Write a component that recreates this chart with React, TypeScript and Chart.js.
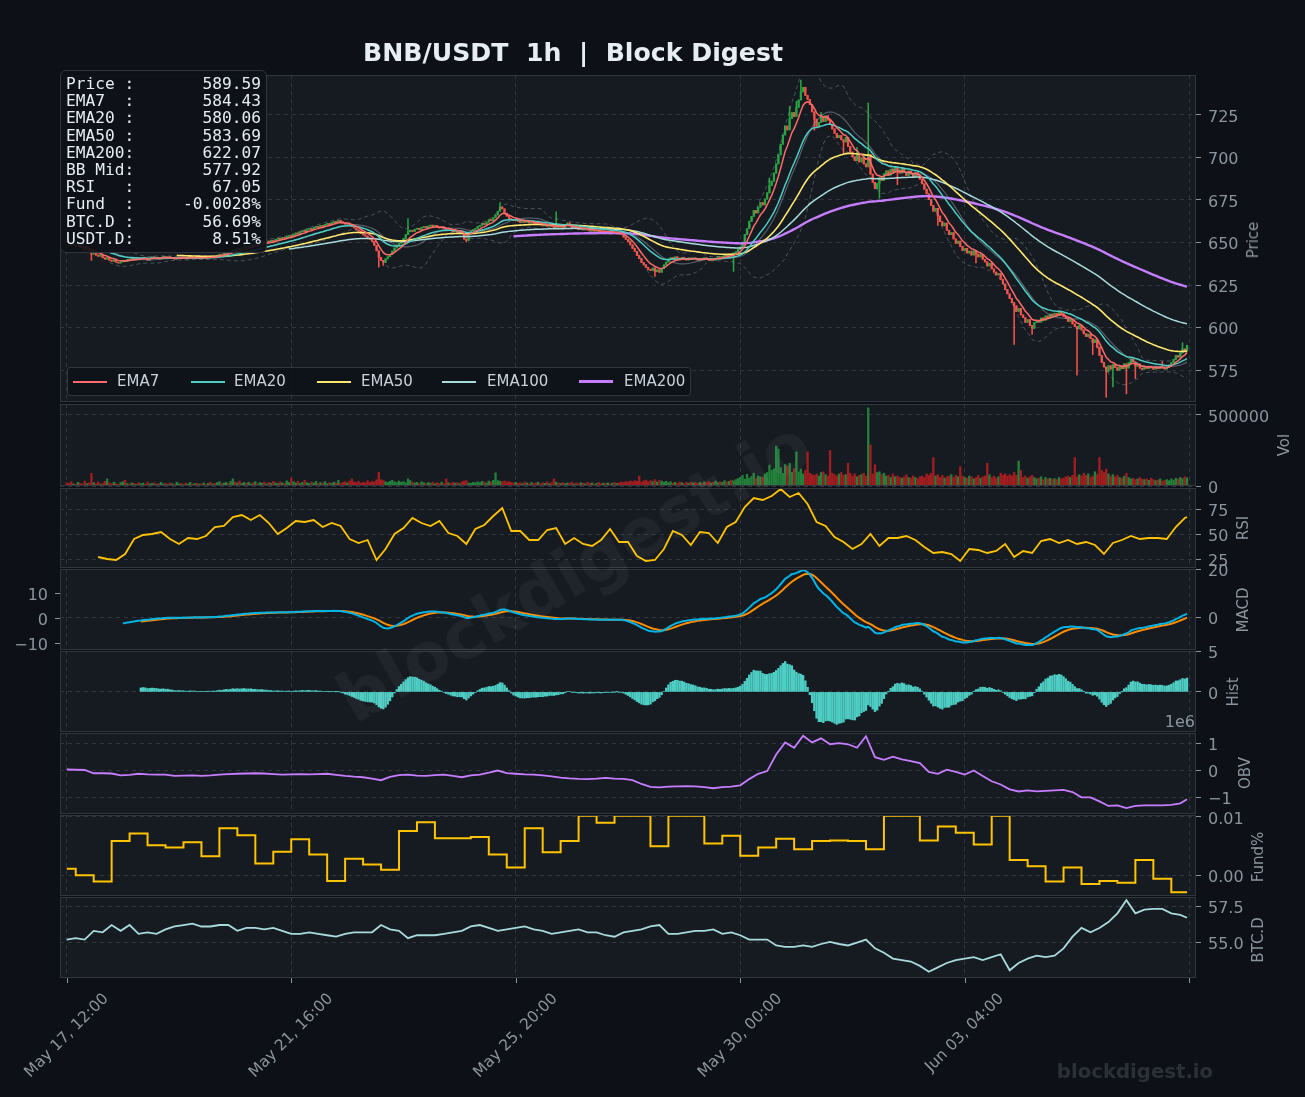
import React, { useEffect, useRef } from "react";
import { Chart, registerables } from "chart.js";

Chart.register(...registerables);

// ------------------------------------------------------------------ data
const X_TICKS = [0, 100, 200, 300, 400, 500];
const X_TICK_LABELS = ["May 17, 12:00", "May 21, 16:00", "May 25, 20:00", "May 30, 00:00", "Jun 03, 04:00"];

const FIRST_OPEN = 650.8;
// hourly closes (BNB/USDT)
const closes = [
  650.2, 649.1, 648.5, 649.3, 647.8, 648.6, 647.2, 646.9, 645.5, 646.3, 645.1, 643.2, 644.0, 642.6, 641.9, 642.8, 641.0, 640.2, 641.1, 639.6,
  638.9, 639.8, 638.4, 637.9, 638.6, 639.5, 638.7, 640.1, 639.3, 640.6, 639.8, 640.9, 640.2, 640.5, 641.3, 640.4, 639.6, 640.8, 641.5, 640.7,
  641.2, 640.3, 641.0, 641.8, 640.9, 641.6, 640.5, 641.1, 640.2, 640.8, 641.5, 640.6, 641.3, 640.4, 641.0, 641.7, 640.8, 641.4, 640.5, 641.2,
  640.6, 641.5, 640.9, 641.8, 641.1, 642.0, 641.4, 642.5, 643.1, 642.4, 643.6, 644.2, 643.5, 644.8, 645.6, 644.9, 646.2, 645.7, 646.8, 647.5,
  646.9, 647.8, 648.6, 647.9, 649.2, 648.5, 649.7, 650.3, 649.6, 650.8, 650.1, 651.3, 650.6, 651.9, 652.5, 651.8, 653.0, 652.4, 653.6, 654.1,
  653.5, 654.8, 655.6, 655.0, 656.3, 657.1, 656.4, 657.8, 658.3, 657.6, 658.9, 659.5, 658.8, 660.1, 659.4, 660.6, 661.2, 660.5, 661.8, 662.4,
  661.7, 663.0, 662.2, 661.5, 660.8, 661.4, 660.1, 659.3, 658.6, 657.4, 656.8, 655.2, 654.5, 653.8, 652.6, 651.9, 650.7, 648.3, 645.1, 641.2,
  639.5, 638.2, 640.4, 641.6, 643.1, 645.0, 646.8, 648.2, 649.5, 650.1, 652.4, 654.6, 656.3, 657.2, 656.5, 657.8, 658.4, 657.6, 658.9, 659.3,
  658.7, 659.6, 660.2, 659.4, 660.0, 659.1, 658.5, 659.2, 658.3, 657.6, 658.1, 657.0, 656.4, 656.9, 655.8, 656.3, 655.5, 652.0, 651.2, 655.9,
  656.8, 657.5, 658.2, 659.4, 660.1, 661.3, 660.6, 662.0, 663.4, 662.8, 664.5, 666.2, 668.4, 670.9, 669.8, 667.2, 665.5, 664.1, 663.6, 662.8,
  663.4, 662.5, 661.8, 662.6, 661.9, 662.4, 661.5, 662.1, 661.3, 660.7, 661.2, 660.4, 659.8, 660.5, 659.6, 660.2, 659.3, 658.7, 659.5, 658.9,
  659.6, 658.8, 660.3, 661.5, 659.7, 658.6, 659.1, 658.2, 657.6, 658.4, 657.5, 658.1, 657.3, 656.8, 657.5, 656.6, 657.2, 656.4, 655.8, 656.5,
  655.9, 656.6, 655.7, 656.2, 655.4, 655.9, 655.1, 654.6, 653.2, 651.8, 650.4, 648.6, 646.5, 644.8, 642.3, 640.5, 638.2, 636.9, 635.4, 634.2,
  633.5, 635.0, 632.8, 633.9, 632.5, 634.6, 636.8, 638.5, 640.2, 641.1, 640.4, 641.6, 640.8, 640.1, 641.3, 640.5, 639.7, 640.9, 640.2, 641.0,
  640.3, 639.5, 640.6, 639.8, 641.0, 640.2, 639.4, 640.5, 639.6, 640.8, 641.5, 640.7, 641.9, 642.6, 641.8, 643.1, 642.5, 643.8, 644.5, 645.9,
  647.3, 650.2, 654.8, 658.1, 662.5, 665.3, 668.9, 667.4, 670.8, 673.5, 672.1, 675.6, 679.2, 683.5, 686.1, 690.8, 696.2, 701.5, 707.8, 713.2,
  718.5, 716.2, 722.8, 726.4, 724.1, 729.5, 733.8, 738.6, 741.2, 736.5, 734.2, 731.0, 726.8, 722.5, 718.4, 720.6, 723.8, 721.2, 724.5, 722.0,
  719.5, 716.8, 714.2, 711.6, 712.9, 710.4, 709.1, 711.8, 706.5, 703.2, 700.4, 698.1, 701.6, 697.4, 699.8, 696.2, 694.5, 701.8, 690.2, 685.4,
  681.6, 684.8, 688.2, 686.5, 690.4, 692.1, 689.6, 693.0, 691.4, 694.2, 692.6, 690.8, 693.5, 691.2, 689.4, 692.0, 690.3, 688.6, 691.1, 689.5,
  687.2, 684.5, 681.3, 678.6, 675.2, 671.8, 668.4, 670.1, 665.6, 662.3, 659.8, 661.4, 657.2, 654.6, 655.8, 652.1, 649.5, 650.8, 647.6, 645.2,
  646.5, 643.8, 644.9, 642.6, 645.1, 643.2, 641.5, 642.8, 640.1, 638.6, 636.2, 637.8, 634.5, 632.6, 630.9, 631.8, 628.4, 625.6, 622.3, 619.8,
  617.1, 614.6, 612.8, 609.5, 611.2, 607.4, 605.8, 603.1, 604.6, 601.2, 599.5, 602.8, 604.1, 603.2, 605.6, 604.3, 606.8, 605.5, 607.9, 606.6,
  608.4, 607.2, 609.6, 608.1, 606.5, 605.2, 603.6, 604.8, 602.1, 600.5, 599.2, 601.4, 598.6, 596.3, 594.8, 596.1, 593.5, 591.2, 592.8, 588.4,
  583.6, 579.5, 576.8, 574.2, 577.5, 575.6, 578.2, 576.4, 574.9, 577.3, 575.8, 578.6, 576.2, 579.4, 581.5, 579.8, 577.2, 578.5, 576.1, 575.4,
  576.8, 575.9, 577.2, 576.3, 575.5, 576.9, 575.8, 577.1, 576.2, 575.6, 576.7, 577.9, 579.4, 581.2, 583.5, 582.6, 585.1, 587.4, 586.2, 589.59,
];

// notable wicks: [index, high, low]
const wicks: [number, number | null, number | null][] = [
  [11, null, 639.5], [139, null, 635.5], [141, null, 636.5], [152, 664, null], [178, null, 650.3],
  [193, 673.5, null], [218, 668, null], [262, null, 630], [297, null, 633], [313, 688, null],
  [322, 730, null], [325, 733, null], [327, 745.5, null], [333, null, 716], [336, 726.5, null],
  [346, null, 702], [352, 706, null], [357, 732, null], [362, null, 676], [370, null, 684],
  [388, null, 660], [405, null, 638], [422, null, 590], [430, null, 596], [450, null, 572],
  [457, null, 584], [463, null, 559], [466, null, 565], [472, null, 561], [476, null, 570],
  [488, 580, null], [497, 591, null],
];

// hourly volume, thousands
const volumesK = [
  22, 18, 31, 15, 12, 26, 19, 14, 35, 17, 21, 89, 24, 16, 28, 13, 19, 33, 50, 21,
  15, 27, 18, 12, 24, 30, 40, 17, 14, 22, 19, 11, 25, 16, 20, 13, 28, 15, 18, 23,
  12, 17, 26, 14, 19, 11, 22, 16, 13, 27, 15, 18, 10, 21, 14, 25, 12, 17, 20, 13,
  16, 22, 11, 19, 27, 14, 18, 24, 30, 17, 21, 26, 19, 33, 50, 28, 22, 35, 18, 25,
  19, 27, 15, 22, 31, 17, 24, 20, 28, 16, 26, 19, 33, 21, 17, 29, 23, 18, 36, 25,
  57, 30, 22, 34, 19, 26, 41, 23, 18, 29, 21, 33, 17, 25, 20, 31, 16, 24, 19, 27,
  22, 40, 18, 26, 30, 21, 35, 50, 28, 24, 33, 19, 27, 22, 38, 25, 31, 29, 44, 96,
  45, 38, 30, 26, 33, 40, 29, 24, 35, 27, 31, 22, 50, 38, 28, 21, 26, 19, 30, 24,
  18, 25, 20, 28, 16, 23, 19, 27, 15, 50, 22, 18, 26, 20, 24, 17, 29, 35, 38, 21,
  19, 26, 22, 30, 24, 33, 27, 21, 35, 29, 40, 92, 38, 34, 30, 36, 28, 31, 25, 22,
  26, 19, 24, 17, 29, 21, 16, 25, 18, 22, 27, 15, 23, 19, 30, 17, 24, 50, 28, 21,
  18, 25, 16, 22, 19, 27, 14, 21, 17, 24, 20, 15, 26, 18, 22, 13, 19, 25, 16, 21,
  17, 23, 14, 20, 26, 18, 22, 29, 25, 31, 27, 35, 30, 38, 33, 70, 28, 36, 42, 30,
  38, 32, 45, 29, 41, 35, 27, 33, 24, 30, 21, 26, 19, 28, 23, 17, 25, 20, 27, 22,
  24, 18, 26, 21, 29, 25, 32, 20, 27, 35, 23, 30, 26, 38, 28, 33, 41, 36, 45, 52,
  60, 75, 48, 82, 55, 68, 90, 52, 70, 64, 62, 85, 95, 148, 110, 120, 280, 260, 130, 88,
  150, 140, 160, 95, 120, 240, 100, 120, 85, 110, 240, 90, 80, 75, 85, 70, 95, 100, 80, 70,
  250, 90, 80, 70, 85, 95, 75, 80, 160, 90, 70, 85, 65, 75, 80, 90, 70, 550, 290, 85,
  150, 95, 100, 80, 90, 70, 75, 60, 85, 65, 70, 60, 55, 65, 80, 60, 55, 70, 60, 50,
  65, 70, 60, 85, 75, 90, 200, 70, 80, 60, 75, 55, 65, 70, 80, 60, 75, 65, 135, 70,
  60, 55, 70, 65, 50, 60, 75, 55, 65, 70, 160, 80, 60, 70, 55, 65, 90, 75, 85, 70,
  80, 70, 95, 75, 175, 110, 60, 70, 55, 65, 75, 60, 50, 55, 65, 45, 60, 50, 55, 48,
  52, 45, 60, 50, 55, 65, 70, 60, 75, 200, 65, 80, 70, 90, 75, 85, 60, 70, 100, 80,
  200, 110, 95, 120, 85, 70, 80, 65, 75, 60, 55, 70, 90, 60, 50, 55, 45, 50, 60, 48,
  45, 50, 40, 55, 45, 38, 42, 50, 35, 40, 45, 38, 50, 42, 55, 48, 60, 52, 65, 58,
];

// RSI(14), every 4 hours from hour 14, last value at the final candle
const rsi4h = [
  27, 25, 24, 30, 45, 49, 50, 52, 45, 40,
  46, 45, 48, 57, 58, 67, 69, 64, 69, 61,
  50, 56, 63, 62, 64, 57, 61, 58, 45, 41,
  44, 24, 35, 50, 56, 66, 61, 58, 63, 51,
  48, 40, 55, 59, 68, 76, 53, 53, 44, 44,
  54, 56, 40, 46, 40, 38, 44, 55, 42, 42,
  28, 23, 24, 35, 53, 49, 39, 52, 51, 41,
  57, 62, 77, 86, 84, 88, 95, 87, 91, 80,
  62, 58, 47, 42, 35, 40, 50, 38, 46, 46,
  48, 44, 37, 31, 32, 30, 23, 35, 34, 31,
  33, 40, 27, 33, 31, 43, 45, 41, 44, 40,
  42, 39, 30, 41, 44, 48, 45, 46, 46, 45,
  57, 66, 67.05,
];

// funding rate (%), one value per 8h window (first window = first 4 hours)
const fundingPct = [
  0.0012, 0.0001, -0.001, 0.0059, 0.0072, 0.0052, 0.0048, 0.0057, 0.0033, 0.0081,
  0.0069, 0.0021, 0.0041, 0.0062, 0.0036, -0.0009, 0.0029, 0.0019, 0.001, 0.0076,
  0.0091, 0.0064, 0.0064, 0.0066, 0.0036, 0.0014, 0.0081, 0.004, 0.0059, 0.0102,
  0.009, 0.0102, 0.0102, 0.005, 0.0102, 0.0102, 0.0055, 0.0068, 0.0034, 0.0048,
  0.0063, 0.0045, 0.0059, 0.006, 0.0059, 0.0045, 0.0102, 0.0102, 0.006, 0.0084,
  0.0073, 0.0053, 0.0102, 0.0027, 0.0016, -0.001, 0.0014, -0.0014, -0.0009, -0.0012,
  0.0027, -0.0005, -0.0028,
];

// BTC dominance (%), every 4 hours
const btcDom4h = [
  55.2, 55.3, 55.2, 55.8, 55.7, 56.2, 55.8, 56.2, 55.6, 55.7,
  55.6, 55.9, 56.1, 56.2, 56.3, 56.1, 56.1, 56.2, 56.2, 55.8,
  56.0, 56.0, 55.9, 56.0, 55.8, 55.6, 55.6, 55.7, 55.6, 55.5,
  55.4, 55.6, 55.7, 55.7, 55.7, 56.2, 55.9, 55.8, 55.3, 55.5,
  55.5, 55.5, 55.6, 55.7, 55.8, 56.1, 56.2, 56.0, 55.8, 55.9,
  56.0, 56.1, 55.9, 55.8, 55.6, 55.7, 55.8, 55.9, 55.7, 55.7,
  55.5, 55.4, 55.7, 55.8, 55.9, 56.1, 56.2, 55.6, 55.6, 55.7,
  55.8, 55.8, 55.9, 55.6, 55.7, 55.5, 55.2, 55.2, 55.2, 54.8,
  54.7, 54.7, 54.8, 54.7, 54.9, 55.05, 54.9, 54.8, 55.0, 55.2,
  54.6, 54.3, 53.9, 53.8, 53.7, 53.4, 53.0, 53.3, 53.6, 53.8,
  53.9, 54.0, 53.8, 54.0, 54.2, 53.1, 53.6, 53.9, 54.1, 54.0,
  54.1, 54.6, 55.4, 56.0, 55.7, 56.0, 56.4, 57.0, 57.9, 57.0,
  57.25, 57.3, 57.3, 57.0, 56.9, 56.7,
];

// On-balance volume (millions), every 4 hours
const obvM4h = [
  0.04, 0.03, 0.02, -0.1, -0.1, -0.11, -0.18, -0.16, -0.12, -0.14,
  -0.15, -0.15, -0.2, -0.19, -0.18, -0.2, -0.18, -0.15, -0.13, -0.12,
  -0.11, -0.1, -0.11, -0.13, -0.15, -0.14, -0.13, -0.14, -0.13, -0.12,
  -0.16, -0.2, -0.23, -0.25, -0.3, -0.36, -0.24, -0.17, -0.15, -0.19,
  -0.2, -0.17, -0.15, -0.2, -0.25, -0.18, -0.15, -0.08, 0.0, -0.1,
  -0.12, -0.14, -0.15, -0.18, -0.22, -0.26, -0.29, -0.31, -0.32, -0.3,
  -0.27, -0.3, -0.31, -0.36, -0.5, -0.61, -0.63, -0.6, -0.59, -0.58,
  -0.59, -0.62, -0.66, -0.62, -0.6, -0.55, -0.32, -0.12, -0.02, 0.6,
  1.05, 0.85, 1.3, 1.05, 1.2, 0.98, 1.02, 0.98, 0.85, 1.28,
  0.5, 0.4, 0.52, 0.42, 0.35, 0.28, -0.05, -0.12, 0.03, -0.05,
  -0.15, 0.0, -0.2, -0.4, -0.52, -0.7, -0.78, -0.74, -0.78, -0.76,
  -0.74, -0.72, -0.8, -1.0, -1.0, -1.15, -1.32, -1.3, -1.4, -1.32,
  -1.3, -1.3, -1.3, -1.28, -1.22, -1.07,
];

const infoRows: [string, string][] = [
  ["Price :", "589.59"], ["EMA7  :", "584.43"], ["EMA20 :", "580.06"], ["EMA50 :", "583.69"],
  ["EMA200:", "622.07"], ["BB Mid:", "577.92"], ["RSI   :", "67.05"], ["Fund  :", "-0.0028%"],
  ["BTC.D :", "56.69%"], ["USDT.D:", "8.51%"],
];

const legendNames = ["EMA7", "EMA20", "EMA50", "EMA100", "EMA200"];

// ------------------------------------------------------------------ style
const FONT = "'DejaVu Sans', 'Liberation Sans', sans-serif";
const MONO = "'DejaVu Sans Mono', 'Liberation Mono', monospace";
const BG = "#0d1117";
const PANEL = "#161b22";
const GRID = "#30363d";
const TICK = "#8b949e";
const TEXT = "#e6edf3";
const C_UP = "#26a641";
const C_DN = "#f85149";
const V_UP = "#23803a";
const V_DN = "#a11d1f";
const EMA_COLORS = ["#ff6b6b", "#4ecdc4", "#ffe66d", "#a8dadc", "#c77dff"];
const LEGEND_POS = [[73, 117], [191, 234], [317, 361], [442, 487], [579, 624]];

const W = 1305, H = 1097, PL = 60, PR = 1196, PAD = 22;
const X_MIN = -3, X_MAX = 503;
const LABEL_SHIFT = 2.5;

// ------------------------------------------------------------------ derived series
const N = closes.length;
const opens = closes.map((c, i) => (i === 0 ? FIRST_OPEN : closes[i - 1]));
const wickMap = new Map(wicks.map((w) => [w[0], w]));
const highs = closes.map((c, i) => {
  const b = Math.max(c, opens[i]);
  const w = wickMap.get(i);
  return w && w[1] != null ? Math.max(w[1], b) : b;
});
const lows = closes.map((c, i) => {
  const b = Math.min(c, opens[i]);
  const w = wickMap.get(i);
  return w && w[2] != null ? Math.min(w[2], b) : b;
});
const up = closes.map((c, i) => c >= opens[i]);

function ema(src: number[], n: number): number[] {
  const k = 2 / (n + 1);
  const out: number[] = [];
  let prev = src[0];
  src.forEach((v, i) => {
    prev = i === 0 ? v : v * k + prev * (1 - k);
    out.push(prev);
  });
  return out;
}
const ema7 = ema(closes, 7);
const ema20 = ema(closes, 20);
const ema50 = ema(closes, 50);
const ema100 = ema(closes, 100);
const ema200 = ema(closes, 200);

const bbMid: (number | null)[] = [];
const bbUp: (number | null)[] = [];
const bbLo: (number | null)[] = [];
for (let i = 0; i < N; i++) {
  if (i < 19) { bbMid.push(null); bbUp.push(null); bbLo.push(null); continue; }
  const win = closes.slice(i - 19, i + 1);
  const m = win.reduce((a, b) => a + b, 0) / 20;
  const sd = Math.sqrt(win.reduce((a, b) => a + (b - m) * (b - m), 0) / 19);
  bbMid.push(m); bbUp.push(m + 2 * sd); bbLo.push(m - 2 * sd);
}

const e12 = ema(closes, 12);
const e26 = ema(closes, 26);
const macd = e12.map((v, i) => v - e26[i]);
const signal = ema(macd, 9);
const hist = macd.map((v, i) => v - signal[i]);

type P = { x: number; y: number };
const pts = (arr: (number | null)[], from = 0): P[] =>
  arr.map((y, i) => ({ x: i, y: y as number })).filter((p) => p.x >= from && p.y != null);
const step4 = (arr: number[]): P[] => arr.map((y, k) => ({ x: Math.min(4 * k, N - 1), y }));
const rsiPts: P[] = rsi4h.map((y, k) => ({ x: Math.min(14 + 4 * k, N - 1), y }));
const fundPts: P[] = fundingPct.map((y, j) => ({ x: j === 0 ? 0 : 8 * j - 4, y }));
fundPts.push({ x: N - 1, y: fundingPct[fundingPct.length - 1] });

// ------------------------------------------------------------------ panels
type Spec = {
  key: string; top: number; bottom: number; yMin: number; yMax: number; yTicks: number[];
  fmt: (v: number) => string; datasets: any[]; last?: boolean;
  left?: { min: number; max: number; ticks: number[]; fmt: (v: number) => string };
};

const minus = (v: number, d = 0) => (v < 0 ? "\u2212" + Math.abs(v).toFixed(d) : v.toFixed(d));
const line = (data: P[], color: string, width: number, order = 1, extra: any = {}) => ({
  type: "line", data, borderColor: color, borderWidth: width, pointRadius: 0, fill: false,
  tension: 0, order, ...extra,
});

const specs: Spec[] = [
  {
    key: "price", top: 75, bottom: 402, yMin: 556.2, yMax: 748.5,
    yTicks: [575, 600, 625, 650, 675, 700, 725], fmt: (v) => v.toFixed(0),
    datasets: [
      line(pts(ema7, 6), EMA_COLORS[0], 1.5, 1),
      line(pts(ema20, 19), EMA_COLORS[1], 1.5, 2),
      line(pts(ema50, 49), EMA_COLORS[2], 1.6, 3),
      line(pts(ema100, 99), EMA_COLORS[3], 1.5, 4),
      line(pts(ema200, 199), EMA_COLORS[4], 2.4, 5),
      line(pts(bbMid, 19), "rgba(139,148,158,0.55)", 1.2, 6),
      line(pts(bbUp, 19), "rgba(139,148,158,0.45)", 1, 7, { borderDash: [4, 3] }),
      line(pts(bbLo, 19), "rgba(139,148,158,0.45)", 1, 7, { borderDash: [4, 3] }),
      {
        type: "bar", data: closes.map((c, i) => ({ x: i, y: [opens[i], c] })),
        backgroundColor: up.map((u) => (u ? C_UP : C_DN)), barThickness: 1.6, grouped: false,
        minBarLength: 1, borderWidth: 0, order: 8,
      },
      {
        type: "bar", data: closes.map((_, i) => ({ x: i, y: [lows[i], highs[i]] })),
        backgroundColor: up.map((u) => (u ? C_UP : C_DN)), barThickness: 0.9, grouped: false,
        borderWidth: 0, order: 9,
      },
    ],
  },
  {
    key: "vol", top: 404, bottom: 486, yMin: 0, yMax: 577000, yTicks: [0, 500000],
    fmt: (v) => v.toFixed(0),
    datasets: [{
      type: "bar", data: volumesK.map((v, i) => ({ x: i, y: v * 1000 })),
      backgroundColor: up.map((u) => (u ? V_UP : V_DN)), barThickness: 1.7, grouped: false, borderWidth: 0,
    }],
  },
  {
    key: "rsi", top: 488, bottom: 568, yMin: 16, yMax: 96, yTicks: [25, 50, 75],
    fmt: (v) => v.toFixed(0), datasets: [line(rsiPts, "#ffc300", 1.8)],
  },
  {
    key: "macd", top: 569, bottom: 650, yMin: -13.8, yMax: 20.3, yTicks: [0, 20],
    fmt: (v) => v.toFixed(0),
    left: { min: -12.6, max: 19.6, ticks: [-10, 0, 10], fmt: (v) => minus(v) },
    datasets: [
      line(pts(macd, 25), "#00b4e6", 2, 1),
      line(pts(signal, 33), "#ff8c00", 2, 2),
    ],
  },
  {
    key: "hist", top: 651, bottom: 732, yMin: -4.9, yMax: 5, yTicks: [0, 5],
    fmt: (v) => v.toFixed(0),
    datasets: [{
      type: "bar", data: pts(hist, 33), backgroundColor: "#4ecdc4", barThickness: 1.7, grouped: false, borderWidth: 0,
    }],
  },
  {
    key: "obv", top: 733, bottom: 814, yMin: -1.62, yMax: 1.4, yTicks: [-1, 0, 1],
    fmt: (v) => minus(v), datasets: [line(step4(obvM4h), "#c77dff", 1.8)],
  },
  {
    key: "fund", top: 815, bottom: 896, yMin: -0.00345, yMax: 0.01034, yTicks: [0, 0.01],
    fmt: (v) => v.toFixed(2), datasets: [line(fundPts, "#ffc300", 2, 1, { stepped: "before" })],
  },
  {
    key: "btcd", top: 897, bottom: 978, yMin: 52.57, yMax: 58.12, yTicks: [55, 57.5],
    fmt: (v) => v.toFixed(1), datasets: [line(step4(btcDom4h), "#a8dadc", 1.8)], last: true,
  },
];

const panelPlugin = {
  id: "panelBg",
  beforeDraw(chart: any) {
    const { ctx, chartArea: a } = chart;
    ctx.save();
    ctx.fillStyle = PANEL;
    ctx.fillRect(a.left, a.top, a.right - a.left, a.bottom - a.top);
    ctx.restore();
  },
  afterDraw(chart: any) {
    const { ctx, chartArea: a } = chart;
    ctx.save();
    ctx.strokeStyle = GRID;
    ctx.lineWidth = 1;
    ctx.strokeRect(a.left + 0.5, a.top + 0.5, a.right - a.left - 1, a.bottom - a.top - 1);
    ctx.restore();
  },
};

const xLabelPlugin = {
  id: "xLabels",
  afterDraw(chart: any) {
    const { ctx, chartArea: a } = chart;
    const xs = chart.scales.x;
    ctx.save();
    ctx.strokeStyle = TICK;
    ctx.lineWidth = 1;
    X_TICKS.forEach((v) => {
      const px = Math.round(xs.getPixelForValue(v)) + 0.5;
      ctx.beginPath();
      ctx.moveTo(px, a.bottom);
      ctx.lineTo(px, a.bottom + 5);
      ctx.stroke();
    });
    const fs = 15.5;
    ctx.font = `${fs}px ${FONT}`;
    ctx.fillStyle = TICK;
    ctx.textAlign = "center";
    ctx.textBaseline = "middle";
    X_TICK_LABELS.forEach((lab, k) => {
      const px = xs.getPixelForValue(X_TICKS[k]);
      const w = ctx.measureText(lab).width;
      const half = ((w + fs * 1.17) * Math.SQRT1_2) / 2;
      ctx.save();
      ctx.translate(px, a.bottom + 12 + half);
      ctx.rotate(-Math.PI / 4);
      ctx.fillText(lab, 0, 0);
      ctx.restore();
    });
    ctx.restore();
  },
};

function canvasGeom(spec: Spec) {
  const canvasTop = spec.top - PAD;
  const ch = spec.last ? H - canvasTop : spec.bottom - spec.top + 2 * PAD;
  return { canvasTop, ch };
}

function buildConfig(spec: Spec): any {
  const { ch } = canvasGeom(spec);
  const areaH = spec.bottom - spec.top;
  const xAxisH = spec.last ? ch - PAD - areaH : 0;
  const tickFont = { family: FONT, size: 16 };
  const scales: any = {
    x: {
      type: "linear", min: X_MIN, max: X_MAX, offset: false, position: "bottom",
      afterBuildTicks: (s: any) => { s.ticks = X_TICKS.map((v) => ({ value: v })); },
      afterFit: (s: any) => { s.height = xAxisH; },
      ticks: { display: false },
      grid: { color: GRID, lineWidth: 1, drawTicks: false, offset: false },
      border: { display: false, dash: [4, 4] },
    },
    y: {
      type: "linear", position: "right", min: spec.yMin, max: spec.yMax,
      afterBuildTicks: (s: any) => { s.ticks = spec.yTicks.map((v) => ({ value: v })); },
      afterFit: (s: any) => { s.width = W - PR; },
      ticks: {
        color: TICK, font: tickFont, padding: 7, autoSkip: false, labelOffset: LABEL_SHIFT,
        callback: (v: any) => spec.fmt(Number(v)),
      },
      grid: { color: GRID, lineWidth: 1, tickLength: 5, tickColor: TICK, tickWidth: 1, offset: false },
      border: { display: false, dash: [4, 4] },
    },
  };
  if (spec.left) {
    const L = spec.left;
    scales.yl = {
      type: "linear", position: "left", min: L.min, max: L.max,
      afterBuildTicks: (s: any) => { s.ticks = L.ticks.map((v) => ({ value: v })); },
      afterFit: (s: any) => { s.width = PL; },
      ticks: {
        color: TICK, font: tickFont, padding: 7, autoSkip: false, labelOffset: LABEL_SHIFT,
        callback: (v: any) => L.fmt(Number(v)),
      },
      grid: { drawOnChartArea: false, tickLength: 5, tickColor: TICK, tickWidth: 1, color: GRID },
      border: { display: false },
    };
  }
  return {
    type: "line",
    data: { datasets: spec.datasets.map((d) => ({ ...d, xAxisID: "x", yAxisID: "y" })) },
    options: {
      animation: false,
      responsive: false,
      maintainAspectRatio: false,
      devicePixelRatio: 1,
      events: [],
      layout: { padding: { left: spec.left ? 0 : PL, right: 0, top: PAD, bottom: spec.last ? 0 : PAD } },
      plugins: { legend: { display: false }, tooltip: { enabled: false }, title: { display: false } },
      elements: { point: { radius: 0 }, line: { tension: 0 } },
      scales,
    },
    plugins: spec.last ? [panelPlugin, xLabelPlugin] : [panelPlugin],
  };
}

function PanelChart({ spec }: { spec: Spec }) {
  const ref = useRef<HTMLCanvasElement>(null);
  useEffect(() => {
    const chart = new Chart(ref.current as HTMLCanvasElement, buildConfig(spec));
    return () => chart.destroy();
  }, [spec]);
  const { canvasTop, ch } = canvasGeom(spec);
  return (
    <canvas
      ref={ref}
      width={W}
      height={ch}
      style={{ position: "absolute", left: 0, top: canvasTop, width: W, height: ch }}
    />
  );
}

const sideLabels: [string, number, number][] = [
  ["Price", 1253, 240], ["Vol", 1284, 445], ["RSI", 1243, 528], ["MACD", 1243, 610],
  ["Hist", 1233, 692], ["OBV", 1245, 773], ["Fund%", 1258, 857], ["BTC.D", 1258, 940],
];

export default function App() {
  useEffect(() => {
    document.body.style.margin = "0";
    document.body.style.background = BG;
  }, []);
  const abs = (s: any) => ({ position: "absolute", ...s });
  return (
    <div style={{ position: "absolute", left: 0, top: 0, width: W, height: H, background: BG, overflow: "hidden", fontFamily: FONT }}>
      {specs.map((s) => (
        <PanelChart key={s.key} spec={s} />
      ))}

      {/* title */}
      <div style={abs({ left: 573, top: 52, transform: "translate(-50%,-50%)", color: TEXT, fontWeight: "bold", fontSize: 25.2, whiteSpace: "pre" })}>
        {"BNB/USDT  1h  |  Block Digest"}
      </div>

      {/* info box */}
      <div style={abs({ left: 60, top: 70, width: 207, height: 183, boxSizing: "border-box", background: "rgba(13,17,23,0.9)", border: `1.5px solid ${GRID}`, borderRadius: 6, padding: "4px 0 0 5px" })}>
        {infoRows.map(([k, v]) => (
          <div key={k} style={{ fontFamily: MONO, fontSize: 16.2, lineHeight: "17.2px", color: TEXT, whiteSpace: "pre" }}>
            {k + v.padStart(13)}
          </div>
        ))}
      </div>

      {/* legend */}
      <div style={abs({ left: 67, top: 367, width: 624, height: 29, boxSizing: "border-box", background: "rgba(13,17,23,0.85)", border: `1px solid ${GRID}`, borderRadius: 3 })} />
      {legendNames.map((name, k) => (
        <React.Fragment key={name}>
          <div style={abs({ left: LEGEND_POS[k][0], top: k === 4 ? 380 : 380.5, width: 34, height: k === 4 ? 3 : 2, background: EMA_COLORS[k] })} />
          <div style={abs({ left: LEGEND_POS[k][1], top: 381, transform: "translateY(-50%)", fontSize: 15, color: "#c9d1d9", whiteSpace: "nowrap" })}>
            {name}
          </div>
        </React.Fragment>
      ))}

      {/* side labels */}
      {sideLabels.map(([t, x, y]) => (
        <div key={t} style={abs({ left: x, top: y, transform: "translate(-50%,-50%) rotate(-90deg)", fontSize: 15, color: TICK, whiteSpace: "nowrap" })}>
          {t}
        </div>
      ))}

      {/* OBV offset text */}
      <div style={abs({ right: W - 1195, top: 721, transform: "translateY(-50%)", fontSize: 16, color: TICK })}>1e6</div>

      {/* watermarks */}
      <div style={abs({ left: 574, top: 572, transform: "translate(-50%,-50%) rotate(-30deg)", fontSize: 67, fontWeight: "bold", color: "rgba(255,255,255,0.045)", whiteSpace: "nowrap", pointerEvents: "none" })}>
        blockdigest.io
      </div>
      <div style={abs({ left: 1135, top: 1071, transform: "translate(-50%,-50%)", fontSize: 19.7, fontWeight: "bold", color: "#2b3038", whiteSpace: "nowrap" })}>
        blockdigest.io
      </div>
    </div>
  );
}
